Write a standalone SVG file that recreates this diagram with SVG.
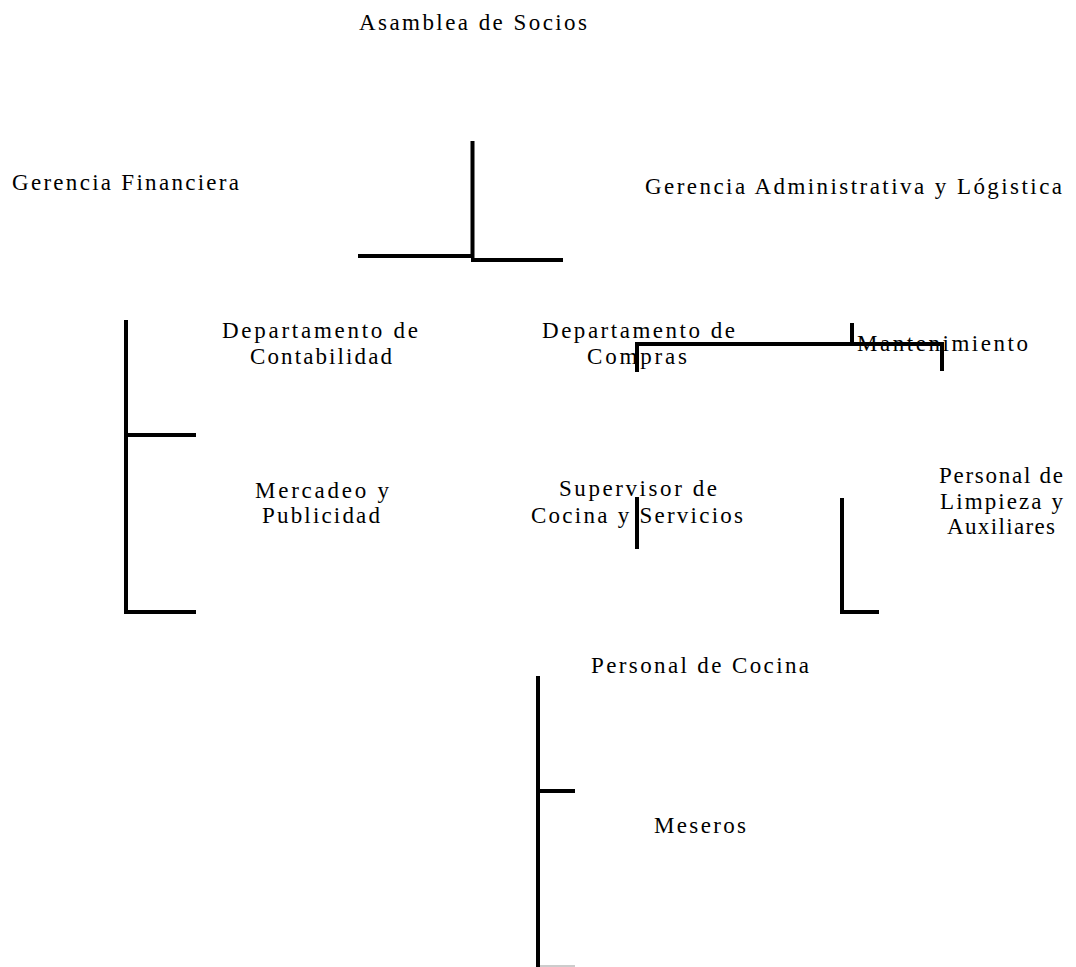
<svg xmlns="http://www.w3.org/2000/svg" width="1076" height="967" viewBox="0 0 1076 967">
<style>
text{font-family:"Liberation Serif","Times New Roman",serif;font-size:23px;fill:#000;}
.c{stroke:#000;stroke-width:4;fill:none;}
</style>
<rect width="1076" height="967" fill="#fff"/>
<g id="connectors">
<path class="c" d="M472.5 141V258M358 256H474M471 260H563"/>
<path class="c" d="M126 320V614M124 435H196M124 612H196"/>
<path class="c" d="M637 372V344H942V371M852 323V344"/>
<path class="c" d="M637 497V549"/>
<path class="c" d="M842 498V612H879"/>
<path class="c" d="M538 676V967M536 791H575"/>
<path d="M540 966H575" stroke="#ccc" stroke-width="2"/>
</g>
<g id="n1"><text x="359" y="30" textLength="228" lengthAdjust="spacing">Asamblea de Socios</text></g>
<g id="n2"><text x="12" y="190" textLength="227" lengthAdjust="spacing">Gerencia Financiera</text></g>
<g id="n3"><text x="645" y="194" textLength="417" lengthAdjust="spacing">Gerencia Administrativa y Lógistica</text></g>
<g id="n4"><text x="222" y="338" textLength="196" lengthAdjust="spacing">Departamento de</text><text x="250" y="364" textLength="142" lengthAdjust="spacing">Contabilidad</text></g>
<g id="n5"><text x="542" y="338" textLength="193" lengthAdjust="spacing">Departamento de</text><text x="587" y="364" textLength="100" lengthAdjust="spacing">Compras</text></g>
<g id="n6"><text x="857" y="351" textLength="171" lengthAdjust="spacing">Mantenimiento</text></g>
<g id="n7"><text x="255" y="498" textLength="134" lengthAdjust="spacing">Mercadeo y</text><text x="262" y="523" textLength="118" lengthAdjust="spacing">Publicidad</text></g>
<g id="n8"><text x="559" y="496" textLength="158" lengthAdjust="spacing">Supervisor de</text><text x="531" y="523" textLength="212" lengthAdjust="spacing">Cocina y Servicios</text></g>
<g id="n9"><text x="939" y="483" textLength="124" lengthAdjust="spacing">Personal de</text><text x="940" y="509" textLength="123" lengthAdjust="spacing">Limpieza y</text><text x="947" y="534" textLength="108" lengthAdjust="spacing">Auxiliares</text></g>
<g id="n10"><text x="591" y="673" textLength="218" lengthAdjust="spacing">Personal de Cocina</text></g>
<g id="n11"><text x="654" y="833" textLength="92" lengthAdjust="spacing">Meseros</text></g>
</svg>
